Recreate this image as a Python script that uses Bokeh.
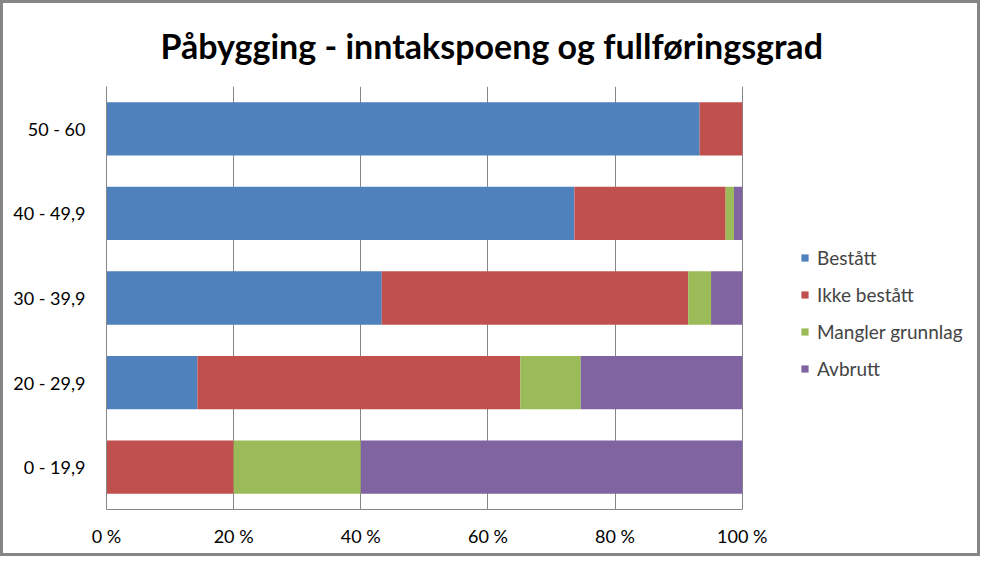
from bokeh.plotting import figure
from bokeh.models import (ColumnDataSource, FactorRange, Range1d, FixedTicker,
                          Legend, LegendItem, Title)
from bokeh.embed import file_html
from bokeh.resources import INLINE

# ---- data ----
categories = ["0 - 19,9", "20 - 29,9", "30 - 39,9", "40 - 49,9", "50 - 60"]
bestatt = [0.0, 14.3, 43.3, 73.6, 93.3]
ikke_bestatt = [20.0, 50.8, 48.2, 23.8, 6.7]
mangler_grunnlag = [20.0, 9.5, 3.6, 1.3, 0.0]
avbrutt = [60.0, 25.4, 4.9, 1.3, 0.0]
series_names = ["Bestått", "Ikke bestått", "Mangler grunnlag", "Avbrutt"]
series_keys = ["bestatt", "ikke_bestatt", "mangler_grunnlag", "avbrutt"]
colors = ["#4F81BD", "#C0504D", "#9BBB59", "#8064A2"]
x_ticks = [0, 20, 40, 60, 80, 100]
x_tick_labels = ["0 %", "20 %", "40 %", "60 %", "80 %", "100 %"]
title_text = "Påbygging - inntakspoeng og fullføringsgrad"

source = ColumnDataSource(dict(cat=categories, bestatt=bestatt,
                               ikke_bestatt=ikke_bestatt,
                               mangler_grunnlag=mangler_grunnlag,
                               avbrutt=avbrutt))

FONT = "Lato"
GRAY = "#868686"

W, H = 980, 556
LEFT, TOP, BOTTOM = 103, 83, 50
FRAME_W = W - LEFT          # frame runs to the right edge; legend sits inside it
PX_PER_100 = 635.7          # pixel width of the 0-100 % axis
x_end = 100.0 * FRAME_W / PX_PER_100

p = figure(width=W, height=H, output_backend="svg", toolbar_location=None,
           y_range=FactorRange(*categories), x_range=Range1d(0, x_end),
           min_border_left=LEFT, min_border_right=0, min_border_top=TOP,
           min_border_bottom=BOTTOM, title=None)
p.styles = {"border": "3px solid " + GRAY}

renderers = p.hbar_stack(series_keys, y="cat", height=0.63, source=source,
                         color=colors, line_color=None)

# axes
p.xaxis.ticker = FixedTicker(ticks=x_ticks)
p.xaxis.bounds = (x_ticks[0], x_ticks[-1])
p.xaxis.major_label_overrides = {t: l for t, l in zip(x_ticks, x_tick_labels)}
for ax in (p.xaxis, p.yaxis):
    ax.axis_line_color = GRAY
    ax.major_tick_line_color = None
    ax.minor_tick_line_color = None
    ax.major_label_text_font = FONT
    ax.major_label_text_font_size = "18px"
    ax.major_label_text_color = "#000000"
p.yaxis.major_label_standoff = 15
p.xaxis.major_label_standoff = 9

p.xgrid.grid_line_color = GRAY
p.ygrid.grid_line_color = None
p.outline_line_color = None
p.background_fill_color = "white"
p.border_fill_color = "white"

# title (centred over the whole chart, not the bar area)
title = Title(text=title_text, text_font=FONT, text_font_style="bold",
              text_font_size="34px", text_color="#000000", align="left",
              offset=54, vertical_align="middle", standoff=40)
p.add_layout(title, "above")

# legend
items = [LegendItem(label=n, renderers=[r]) for n, r in zip(series_names, renderers)]
legend = Legend(items=items, location=(694, 129), padding=0, margin=0,
                glyph_width=9, glyph_height=9, label_standoff=8,
                label_height=23, spacing=14,
                label_text_font=FONT, label_text_font_size="19px",
                border_line_color=None, background_fill_alpha=0)
p.add_layout(legend, "center")

open("out.html", "w").write(file_html(p, INLINE))
